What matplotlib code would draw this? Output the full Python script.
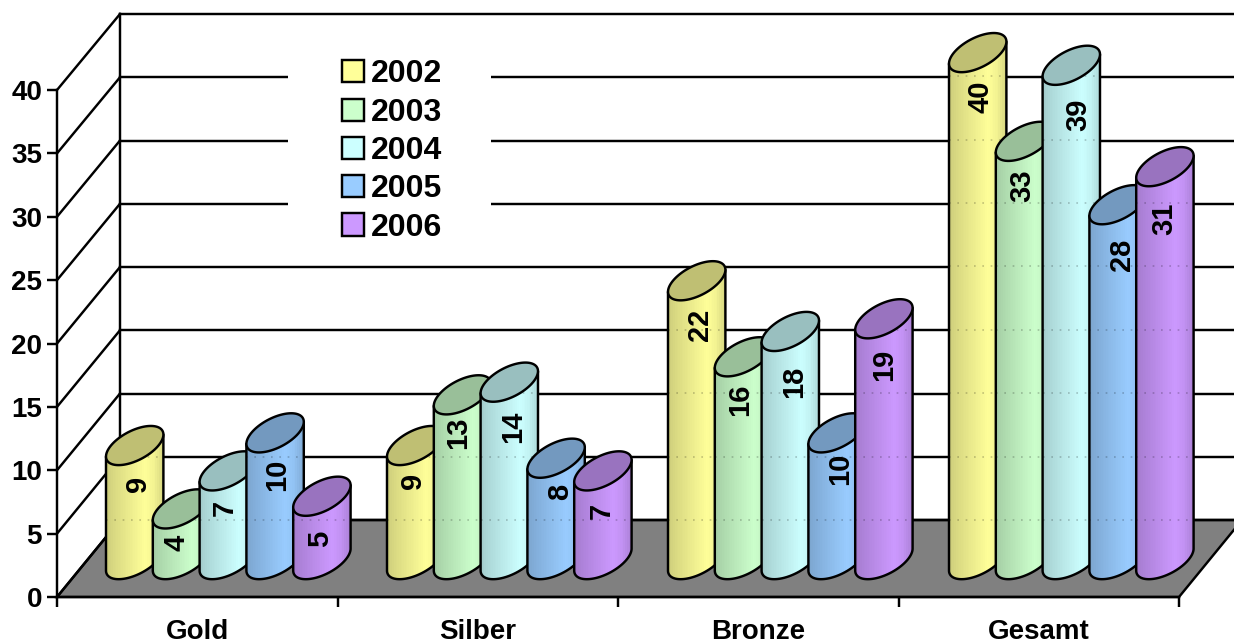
import numpy as np
import matplotlib
matplotlib.use("Agg")
import matplotlib.pyplot as plt
from matplotlib.patches import Polygon, PathPatch, Rectangle, Patch
from matplotlib.path import Path
from matplotlib.transforms import Affine2D

categories = ["Gold", "Silber", "Bronze", "Gesamt"]
years = ["2002", "2003", "2004", "2005", "2006"]
v2002 = [9, 9, 22, 40]
v2003 = [4, 13, 16, 33]
v2004 = [7, 14, 18, 39]
v2005 = [10, 8, 10, 28]
v2006 = [5, 7, 19, 31]
series = [v2002, v2003, v2004, v2005, v2006]
colors = ["#FFFF99", "#CCFFCC", "#CCFFFF", "#99CCFF", "#CC99FF"]
yticks = [0, 5, 10, 15, 20, 25, 30, 35, 40]

# label nudges in pixels: (right, down from the top-ellipse centre), series by category
label_dx = [[1, -5, 1, 1], [-7, -6, -5, -4], [-6, 2, 2, 5], [0, 2, 1, 2], [-4, -3, -2, -3]]
label_dy = [[38, 35, 44, 44], [34, 38, 43, 44], [37, 45, 50, 50], [42, 34, 36, 50], [43, 40, 46, 52]]

plt.rcParams["font.family"] = ["Liberation Sans", "DejaVu Sans"]
W, H = 1234, 644
fig = plt.figure(figsize=(W / 100, H / 100), dpi=100)
ax = fig.add_axes([57 / W, (H - 597) / H, 1122 / W, 507 / H])
ax.set_xlim(0, 4)
ax.set_ylim(0, 40)
ax.patch.set_visible(False)
PX = 4 / 1122          # data x per pixel
PY = 40 / 507          # data y per pixel
DX, DY = 63 * PX, 77 * PY
LW = 1.75

pixel = Affine2D().scale(1 / W, -1 / H).translate(0, 1) + fig.transFigure

# floor
ax.add_patch(Polygon([(0, 0), (DX, DY), (4 + DX, DY), (4, 0)], closed=True, fc="#808080",
                     ec="black", lw=LW, clip_on=False, zorder=1))
# walls
for t in yticks:
    back = t * 0.998 + DY
    ax.plot([DX, 4 + DX], [back, back], color="black", lw=LW, clip_on=False, zorder=1.5)
    ax.plot([0, DX], [t, back], color="black", lw=LW, clip_on=False, zorder=1.5)
ax.plot([DX, DX], [DY, 40 * 0.998 + DY], color="black", lw=LW, clip_on=False, zorder=1.5)

# legend block
ax.add_patch(Rectangle((288, 40), 203, 210, transform=pixel, fc="white", ec="none",
                       clip_on=False, zorder=2))

# cylinders
t_arc = np.linspace(np.pi, 2 * np.pi, 60)
t_full = np.linspace(0, 2 * np.pi, 120)
HW = 28.7 * PX
EA, EB = 11 * PY, 16.2 * PY
BASE = 2.95
profile_x = np.linspace(0, 1, 34)
profile = np.interp(profile_x, [0, 0.08, 0.68, 0.85, 1], [0.80, 0.84, 1.0, 0.95, 0.84])
z = 3.0
for s, vals in enumerate(series):
    rgb = np.array(matplotlib.colors.to_rgb(colors[s]))
    grad = (profile[:, None] * rgb)[None, :, :]
    for c, v in enumerate(vals):
        cx = c + (106 - 57 + 28.7 + 0.5 * c) * PX + s * 46.8 * PX
        top = BASE + v
        xl, xr = cx - HW, cx + HW
        arc = np.column_stack([cx + HW * np.cos(t_arc),
                               BASE + EA * np.cos(t_arc) + EB * np.sin(t_arc)])
        pts = np.vstack([[(xl, top - EA)], arc, [(xr, top + EA)]])
        body_clip = PathPatch(Path(np.vstack([pts, pts[:1]]), closed=True), fc="none", ec="none",
                              clip_on=False, zorder=z)
        ax.add_patch(body_clip)
        im = ax.imshow(grad, extent=(xl, xr, 0, top + EA + 1), aspect="auto",
                       interpolation="nearest", zorder=z + 0.1)
        im.set_clip_path(body_clip)
        im.set_clip_box(fig.bbox)
        for t in yticks:
            ln, = ax.plot([xl, xr], [t + DY, t + DY], color="black", lw=1.2, alpha=0.22,
                          ls=(0, (1, 4)), zorder=z + 0.2)
            ln.set_clip_path(body_clip)
            ln.set_clip_box(fig.bbox)
        ax.plot(pts[:, 0], pts[:, 1], color="black", lw=LW, clip_on=False, zorder=z + 0.3,
                solid_capstyle="round", solid_joinstyle="round")
        ell = np.column_stack([cx + HW * np.cos(t_full),
                               top + EA * np.cos(t_full) + EB * np.sin(t_full)])
        ax.add_patch(Polygon(ell, closed=True, fc=tuple(rgb * 0.75), ec="black", lw=LW,
                             clip_on=False, zorder=z + 0.4))
        ax.text(cx + (label_dx[s][c] + 2) * PX, top - label_dy[s][c] * PY, str(v), rotation=90,
                ha="center", va="center", fontsize=21, fontweight="bold", color="black",
                clip_on=False, zorder=z + 0.5)
        z += 1

ax.set_xlim(0, 4)
ax.set_ylim(0, 40)

# axes
for side in ("top", "right"):
    ax.spines[side].set_visible(False)
for side in ("left", "bottom"):
    ax.spines[side].set_linewidth(LW)
    ax.spines[side].set_zorder(200)
ax.set_yticks(yticks)
ax.set_xticks(range(5))
ax.set_xticklabels([])
ax.set_xticks([0.5, 1.5, 2.5, 3.5], categories, minor=True)
ax.tick_params(axis="both", which="major", length=7.2, width=LW, labelsize=20)
ax.tick_params(axis="y", pad=3.6)
ax.tick_params(axis="x", which="minor", length=0, pad=15.7, labelsize=20)
for lab in ax.get_yticklabels() + ax.get_xticklabels(minor=True):
    lab.set_fontweight("bold")

# legend
handles = [Patch(fc=col, ec="black", lw=LW, label=y) for col, y in zip(colors, years)]
leg = ax.legend(handles=handles, loc="upper left", bbox_to_anchor=(342, 59.5),
                bbox_transform=pixel, frameon=False, fontsize=23, handlelength=0.69,
                handleheight=0.69, handletextpad=0.2, labelspacing=0.26,
                borderpad=0, borderaxespad=0)
leg.set_zorder(2.5)
for txt in leg.get_texts():
    txt.set_fontweight("bold")

fig.savefig("out.png", dpi=100)
